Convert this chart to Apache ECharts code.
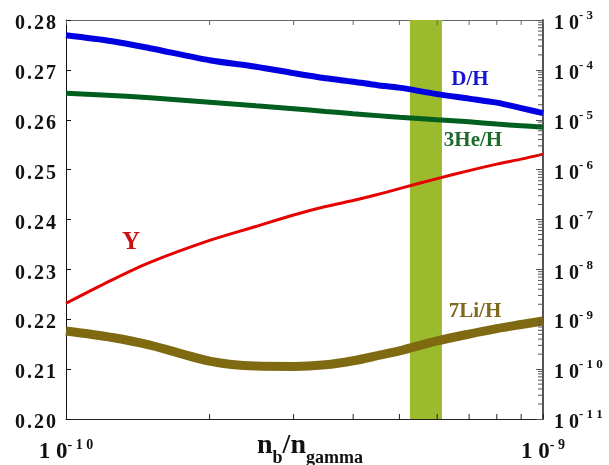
<!DOCTYPE html>
<html><head><meta charset="utf-8">
<script src="https://cdn.jsdelivr.net/npm/echarts@6/dist/echarts.min.js"></script>
<style>html,body{margin:0;padding:0;background:#fff}#c{width:609px;height:465px}</style>
</head><body><div id="c"></div>
<script>
// x: baryon-to-photon ratio n_b/n_gamma
const nbng = [1.0e-10, 1.25e-10, 1.5e-10, 2e-10, 2.5e-10, 3e-10, 3.5e-10, 4e-10, 4.5e-10, 5e-10, 6e-10, 7e-10, 8e-10, 9e-10, 1e-9];
// right (log) axis abundances
const dH   = [4.95e-4, 3.76e-4, 2.72e-4, 1.56e-4, 1.16e-4, 8.6e-5, 6.8e-5, 5.8e-5, 4.93e-5, 4.4e-5, 3.26e-5, 2.65e-5, 2.2e-5, 1.71e-5, 1.36e-5];
const he3H = [3.41e-5, 3.07e-5, 2.76e-5, 2.25e-5, 1.90e-5, 1.67e-5, 1.47e-5, 1.32e-5, 1.21e-5, 1.12e-5, 1.00e-5, 9.1e-6, 8.2e-6, 7.6e-6, 7.1e-6];
const li7H = [5.81e-10, 4.31e-10, 3.04e-10, 1.45e-10, 1.15e-10, 1.13e-10, 1.22e-10, 1.47e-10, 1.86e-10, 2.32e-10, 3.67e-10, 5.05e-10, 6.49e-10, 7.83e-10, 9.2e-10];
// left (linear) axis: helium mass fraction Y
const yHe  = [0.2232, 0.2279, 0.2314, 0.2358, 0.2386, 0.2409, 0.2426, 0.2438, 0.2450, 0.2462, 0.2482, 0.2498, 0.2511, 0.2521, 0.2531];
// observed band
const band = [5.26e-10, 6.14e-10];
// axis ranges / ticks
const leftRange = [0.20, 0.28];
const rightRange = [1e-11, 1e-3];
const xRange = [1e-10, 1e-9];
const xMinorTicks = [2e-10, 3e-10, 4e-10, 5e-10, 6e-10, 7e-10, 8e-10, 9e-10];
const decadeMultipliers = [2, 3, 4, 5, 6, 7, 8, 9];
const rightDecades = [-11, -10, -9, -8, -7, -6, -5, -4];

const serif = "'Liberation Serif','Times New Roman',serif";
const spaced = s => s.split('').join(' ');
const tokens = s => s.split('').map(c => '{d|' + c + '}').join('');
const expOf = v => Math.round(Math.log10(v));
const rightMinor = [];
rightDecades.forEach(e => decadeMultipliers.forEach(k => rightMinor.push(k * Math.pow(10, e))));

const chart = echarts.init(document.getElementById('c'));
const pairs = arr => nbng.map((x, i) => [x, arr[i]]);

const option = {
  backgroundColor: '#fff',
  animation: false,
  grid: { left: 66, right: 66, top: 20, bottom: 46, outerBoundsMode: 'none' },
  xAxis: [
    { type: 'log', logBase: 10, min: xRange[0], max: xRange[1], position: 'bottom',
      axisLine: { show: true, lineStyle: { color: '#222', width: 1 } },
      axisTick: { show: true, inside: true, length: 5, lineStyle: { color: '#222' } },
      splitLine: { show: false }, minorTick: { show: false },
      axisLabel: { margin: 14,
        formatter: v => '{a|1 0}{s|' + spaced(String(expOf(v))) + '}',
        rich: {
          a: { fontFamily: serif, fontWeight: 'bold', fontSize: 23, color: '#111', padding: [8, 0, 0, 0] },
          s: { fontFamily: serif, fontWeight: 'bold', fontSize: 14, color: '#111', padding: [0, 0, 6, 0] }
        } } },
    { type: 'log', logBase: 10, min: xRange[0], max: xRange[1], position: 'top',
      axisLine: { show: true, lineStyle: { color: '#666', width: 1 } },
      axisTick: { show: true, inside: true, length: 5, lineStyle: { color: '#666' } },
      splitLine: { show: false }, axisLabel: { show: false } }
  ],
  yAxis: [
    { type: 'value', min: leftRange[0], max: leftRange[1], interval: 0.01, position: 'left',
      axisLine: { show: true, lineStyle: { color: '#111', width: 1 } },
      axisTick: { show: true, inside: true, length: 5, lineStyle: { color: '#111' } },
      splitLine: { show: false },
      axisLabel: { margin: 9,
        formatter: v => tokens(v.toFixed(2)),
        rich: {
          d: { fontFamily: serif, fontWeight: 'bold', fontSize: 20, color: '#111', padding: [8, 1, 0, 1] }
        } } },
    { type: 'log', logBase: 10, min: rightRange[0], max: rightRange[1], splitNumber: 8, position: 'right',
      axisLine: { show: true, lineStyle: { color: '#555', width: 2 } },
      axisTick: { show: true, inside: true, length: 7, lineStyle: { color: '#555' } },
      splitLine: { show: false },
      axisLabel: { margin: 11,
        formatter: v => '{a|1 0}{s|' + spaced(String(expOf(v))) + '}',
        rich: {
          a: { fontFamily: serif, fontWeight: 'bold', fontSize: 20, color: '#111', padding: [8, 0, 0, 0] },
          s: { fontFamily: serif, fontWeight: 'bold', fontSize: 13, color: '#111', padding: [0, 0, 8, 0] }
        } } }
  ],
  series: [
    { type: 'line', name: 'band', xAxisIndex: 0, yAxisIndex: 0, data: [], silent: true,
      markArea: { silent: true, itemStyle: { color: '#9bba2d', opacity: 1 },
        data: [[{ xAxis: band[0] }, { xAxis: band[1] }]] } },
    { type: 'line', name: 'D/H', yAxisIndex: 1, data: pairs(dH), smooth: 0.3, showSymbol: false,
      lineStyle: { color: '#0000e0', width: 6 }, z: 3 },
    { type: 'line', name: '3He/H', yAxisIndex: 1, data: pairs(he3H), smooth: 0.3, showSymbol: false,
      lineStyle: { color: '#005f1e', width: 5 }, z: 3 },
    { type: 'line', name: 'Y', yAxisIndex: 0, data: pairs(yHe), smooth: 0.3, showSymbol: false,
      lineStyle: { color: '#e60000', width: 3 }, z: 3 },
    { type: 'line', name: '7Li/H', yAxisIndex: 1, data: pairs(li7H), smooth: 0.3, showSymbol: false,
      lineStyle: { color: '#7f6a12', width: 9 }, z: 3 },
    { type: 'custom', name: 'rightMinor', xAxisIndex: 0, yAxisIndex: 1, silent: true, clip: false, z: 5,
      data: rightMinor.map(v => [xRange[1], v]),
      renderItem: (params, api) => {
        const p = api.coord([api.value(0), api.value(1)]);
        return { type: 'line', shape: { x1: p[0] - 1, y1: p[1], x2: p[0] - 5, y2: p[1] },
          style: { stroke: '#555', lineWidth: 1 } };
      } },
    { type: 'custom', name: 'xMinor', xAxisIndex: 0, yAxisIndex: 0, silent: true, clip: false, z: 5,
      data: xMinorTicks.map(v => [v, leftRange[0]]),
      renderItem: (params, api) => {
        const pb = api.coord([api.value(0), leftRange[0]]);
        const pt = api.coord([api.value(0), leftRange[1]]);
        return { type: 'group', children: [
          { type: 'line', shape: { x1: pb[0], y1: pb[1], x2: pb[0], y2: pb[1] - 5 }, style: { stroke: '#222', lineWidth: 1 } },
          { type: 'line', shape: { x1: pt[0], y1: pt[1], x2: pt[0], y2: pt[1] + 5 }, style: { stroke: '#666', lineWidth: 1 } }
        ] };
      } }
  ],
  graphic: [
    { type: 'text', x: 470, y: 80, z: 10, style: { text: 'D/H', fill: '#1414d2', font: 'bold 21px ' + serif, align: 'center', verticalAlign: 'middle' } },
    { type: 'text', x: 473, y: 141, z: 10, style: { text: '3He/H', fill: '#1b6a2b', font: 'bold 21px ' + serif, align: 'center', verticalAlign: 'middle' } },
    { type: 'text', x: 131, y: 243, z: 10, style: { text: 'Y', fill: '#cc1111', font: 'bold 25px ' + serif, align: 'center', verticalAlign: 'middle' } },
    { type: 'text', x: 475, y: 312, z: 10, style: { text: '7Li/H', fill: '#7d6a1c', font: 'bold 21px ' + serif, align: 'center', verticalAlign: 'middle' } },
    { type: 'text', x: 310, y: 446, z: 10, style: {
        text: '{n|n}{s|b}{n|/}{n|n}{s|gamma}', align: 'center', verticalAlign: 'middle',
        rich: {
          n: { fontFamily: serif, fontWeight: 'bold', fontSize: 28, fill: '#111', color: '#111' },
          s: { fontFamily: serif, fontWeight: 'bold', fontSize: 18, fill: '#111', color: '#111', padding: [24, 0, 0, 0] }
        } } }
  ]
};
chart.setOption(option);
</script>
</body></html>
